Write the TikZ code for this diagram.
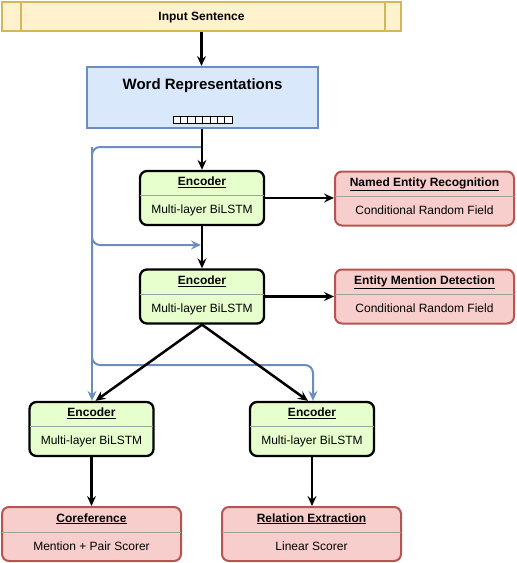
\documentclass[tikz,border=0pt]{standalone}
\usepackage{fontspec}
\setmainfont{Liberation Sans}
\usetikzlibrary{arrows.meta}
\definecolor{inFill}{HTML}{FFF2CC}
\definecolor{inLine}{HTML}{D6B656}
\definecolor{wrFill}{HTML}{DAE8FC}
\definecolor{wrLine}{HTML}{6C8EBF}
\definecolor{gFill}{HTML}{E6FFCC}
\definecolor{rFill}{HTML}{F8CECC}
\definecolor{rLine}{HTML}{B85450}
\definecolor{sepGray}{HTML}{A0A0A0}
\tikzset{
  encbox/.style={draw=black, fill=gFill, line width=2.3pt, rounded corners=7pt,
    minimum width=124pt, minimum height=54pt, inner sep=0pt},
  taskbox/.style={draw=rLine, fill=rFill, line width=2pt, rounded corners=7pt,
    minimum width=179pt, minimum height=54pt, inner sep=0pt},
  titletext/.style={font=\fontsize{12}{14}\selectfont\bfseries, inner sep=0pt, anchor=base},
  bodytext/.style={font=\fontsize{12}{14}\selectfont, inner sep=0pt, anchor=base},
  sepline/.style={draw=sepGray, line width=0.8pt},
  arr/.style={line width=2.5pt, -{Stealth[length=10pt,width=9pt,inset=3.5pt]}},
  barr/.style={draw=wrLine, line width=2pt, rounded corners=8pt, -{Stealth[length=10pt,width=9pt,inset=3.5pt]}},
}
\newcommand\twobox[6]{%
  \node[#2] (#1) at (#3,#4) {};
  \node[titletext] (#1-t) at ([yshift=-16pt]#1.north) {\underline{#5}};
  \draw[sepline] ([xshift=1.2pt,yshift=-26pt]#1.north west) -- ([xshift=-1.2pt,yshift=-26pt]#1.north east);
  \node[bodytext] (#1-b) at ([yshift=-44pt]#1.north) {#6};
}
\begin{document}
\begin{tikzpicture}[x=1pt,y=-1pt]
\useasboundingbox (0,0) rectangle (517,563);
% input sentence
\node[draw=inLine, fill=inFill, line width=2pt, minimum width=399pt, minimum height=29pt, inner sep=0pt] (in) at (201.5,16.5) {};
\draw[draw=inLine, line width=2pt] ([xshift=19.5pt]in.north west) -- ([xshift=19.5pt]in.south west);
\draw[draw=inLine, line width=2pt] ([xshift=-17.5pt]in.north east) -- ([xshift=-17.5pt]in.south east);
\node[titletext] (in-t) at (201.5,20.5) {Input Sentence};
% word representations
\node[draw=wrLine, fill=wrFill, line width=2pt, minimum width=231pt, minimum height=61pt, inner sep=0pt] (wr) at (202.5,97.5) {};
\node[font=\fontsize{15}{18}\selectfont\bfseries, inner sep=0pt, anchor=base] (wr-t) at (202.5,89.5) {Word Representations};
\foreach \i in {0,...,7} {
  \draw[line width=0.7pt, fill=white] (173+\i*7.4,116) rectangle ++(7.4,7);
}
% encoders
\twobox{e1}{encbox}{202}{198}{Encoder}{Multi-layer BiLSTM}
\twobox{e2}{encbox}{202}{296.5}{Encoder}{Multi-layer BiLSTM}
\twobox{e3}{encbox}{91.5}{429}{Encoder}{Multi-layer BiLSTM}
\twobox{e4}{encbox}{312}{429}{Encoder}{Multi-layer BiLSTM}
% tasks
\twobox{ner}{taskbox}{424.5}{198.5}{Named Entity Recognition}{Conditional Random Field}
\twobox{emd}{taskbox}{424.5}{296.5}{Entity Mention Detection}{Conditional Random Field}
\twobox{cor}{taskbox}{91.5}{534}{Coreference}{Mention + Pair Scorer}
\twobox{rel}{taskbox}{311.5}{534}{Relation Extraction}{Linear Scorer}
% blue skip connections
\coordinate (b1) at (202,147);
\coordinate (c1) at (92,147);
\coordinate (c2) at (92,245);
\coordinate (t1) at (201,245);
\coordinate (c3) at (92,365);
\coordinate (c4) at (313,365);
\draw[barr] (b1) -- (c1) -- (c2) -- (t1);
\draw[barr] (c1) -- ([xshift=0.5pt]e3.north);
\draw[barr] (c2) -- (c3) -- (c4) -- ([xshift=1pt]e4.north);
% black arrows
\draw[arr] (in.south) -- (in.south |- wr.north);
\draw[arr] (wr.south -| e1.north) -- (e1.north);
\draw[arr] (e1.south) -- (e2.north);
\draw[arr] (e1.east) -- (e1.east -| ner.west);
\draw[arr] (e2.east) -- (e2.east -| emd.west);
\draw[arr] (e2.south) -- ([xshift=4pt]e3.north);
\draw[arr] (e2.south) -- ([xshift=-4pt]e4.north);
\draw[arr] (e3.south) -- (e3.south |- cor.north);
\draw[arr] (e4.south) -- (e4.south |- rel.north);
\end{tikzpicture}
\end{document}
